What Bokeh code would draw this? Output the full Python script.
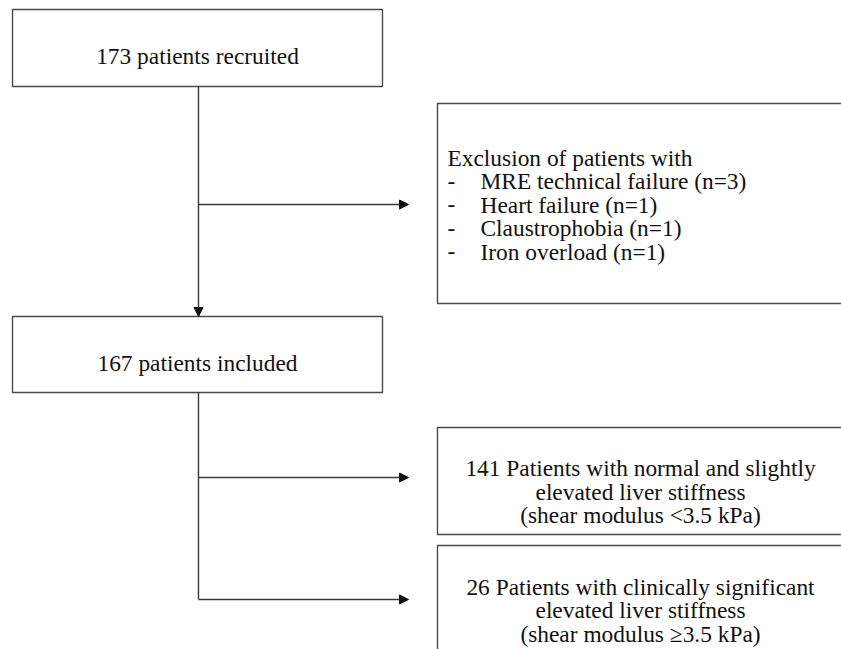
from bokeh.plotting import figure
from bokeh.models import Range1d, Arrow, NormalHead, ColumnDataSource
from bokeh.core.properties import value
from bokeh.embed import file_html
from bokeh.resources import INLINE

# ---- data ----
recruited = 173
exclusion_reasons = ["MRE technical failure", "Heart failure", "Claustrophobia", "Iron overload"]
exclusion_counts = [3, 1, 1, 1]
included = 167
group_counts = [141, 26]
group_lines = [
    ["{n} Patients with normal and slightly", "elevated liver stiffness", "(shear modulus <3.5 kPa)"],
    ["{n} Patients with clinically significant", "elevated liver stiffness", "(shear modulus \u22653.5 kPa)"],
]

# ---- layout (screen pixel space) ----
W, H = 841, 649
p = figure(width=W, height=H, output_backend="svg", toolbar_location=None,
           x_range=Range1d(0, W), y_range=Range1d(H, 0), min_border=0)
p.axis.visible = False
p.grid.visible = False
p.outline_line_color = None
p.background_fill_color = "white"
p.border_fill_color = "white"

FONT = value("Liberation Serif")
FS = "23.4px"
LC = "#3a3a3a"
TC = "#111111"

boxes = dict(
    left=[12, 12, 437, 437, 437],
    right=[382, 382, 852, 843, 843],
    top=[9, 316, 103, 427, 545],
    bottom=[86, 392, 303, 534, 670],
)
p.quad(source=ColumnDataSource(boxes), left="left", right="right", top="top", bottom="bottom",
       fill_color=None, line_color="#4a4a4a", line_width=1.4)

# connectors
spine_x = 198
p.segment(x0=[spine_x], y0=[392], x1=[spine_x], y1=[599], line_color=LC, line_width=1.4)
arrows = [
    (spine_x, 86, spine_x, 316),
    (spine_x, 204, 408, 204),
    (spine_x, 477, 408, 477),
    (spine_x, 599, 408, 599),
]
for x0, y0, x1, y1 in arrows:
    p.add_layout(Arrow(end=NormalHead(size=9, fill_color="#111111", line_color="#111111", line_width=1),
                       x_start=x0, y_start=y0, x_end=x1, y_end=y1,
                       line_color=LC, line_width=1.4))

def txt(x, y, s, align="center"):
    p.text(x=[x], y=[y], text=[s], text_font=FONT, text_font_size=FS, text_color=TC,
           text_align=align, text_baseline="alphabetic")

txt(197, 55, f"{recruited} patients recruited")
txt(197, 362, f"{included} patients included")

ex_base = [157, 180.5, 204, 227.5, 251]
txt(447, ex_base[0], "Exclusion of patients with", align="left")
for i, (r, c) in enumerate(zip(exclusion_reasons, exclusion_counts)):
    txt(447, ex_base[i + 1], "-", align="left")
    txt(480, ex_base[i + 1], f"{r} (n={c})", align="left")

g_base = [[467, 491, 514], [586, 609, 633]]
for n, lines, bases in zip(group_counts, group_lines, g_base):
    for j, (ln, b) in enumerate(zip(lines, bases)):
        txt(640, b, ln.format(n=n))

open("out.html", "w").write(file_html(p, INLINE))
